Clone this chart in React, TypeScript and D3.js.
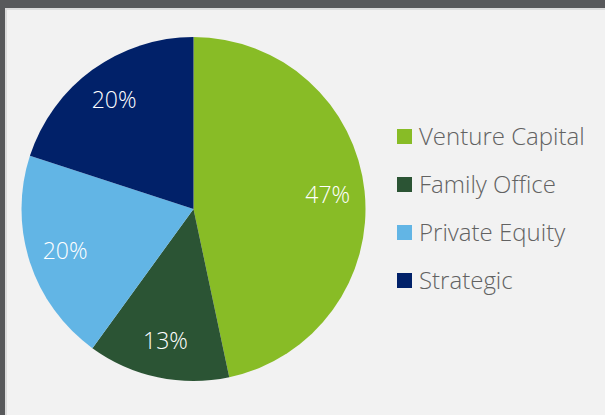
import React from "react";
import * as d3 from "d3";

const categories = ["Venture Capital", "Family Office", "Private Equity", "Strategic"];
const values = [7, 2, 3, 3];
const colors = ["#88bc26", "#2b5434", "#62b5e5", "#012169"];

const W = 605;
const H = 415;

export default function App() {
  const cx = 193.5;
  const cy = 209;
  const r = 172;
  const total = d3.sum(values);
  const pie = d3.pie<number>().sort(null).value((d) => d)(values);
  const arc = d3.arc<d3.PieArcDatum<number>>().innerRadius(0).outerRadius(r);
  const labelArc = d3.arc<d3.PieArcDatum<number>>().innerRadius(r * 0.785).outerRadius(r * 0.785);
  const fmt = d3.format(".0%");
  const legendY = d3.scalePoint<string>().domain(categories).range([136.5, 280.5]);
  const font = "'Open Sans', sans-serif";

  return (
    <svg width={W} height={H} style={{ position: "absolute", left: 0, top: 0 }}>
      <rect x={0} y={0} width={W} height={H} fill="#58595b" />
      <rect x={5} y={8} width={W - 5} height={H - 8} fill="#dcdcdc" />
      <rect x={7} y={10} width={W - 7} height={H - 10} fill="#f2f2f2" />
      <g transform={`translate(${cx},${cy})`}>
        {pie.map((p, i) => (
          <path key={i} d={arc(p) || ""} fill={colors[i]} />
        ))}
        {pie.map((p, i) => {
          const [x, y] = labelArc.centroid(p);
          return (
            <text
              key={"l" + i}
              x={x}
              y={y}
              dy="0.34em"
              textAnchor="middle"
              fill="#ffffff"
              fontFamily={font}
              fontWeight={300}
              fontSize={23}
            >
              {fmt(values[i] / total)}
            </text>
          );
        })}
      </g>
      {categories.map((c, i) => (
        <g key={c} transform={`translate(397,${legendY(c)})`}>
          <rect x={0} y={-7.5} width={15} height={15} fill={colors[i]} />
          <text
            x={22}
            y={0}
            dy="0.36em"
            fill="#626262"
            fontFamily={font}
            fontWeight={300}
            fontSize={24}
          >
            {c}
          </text>
        </g>
      ))}
    </svg>
  );
}
